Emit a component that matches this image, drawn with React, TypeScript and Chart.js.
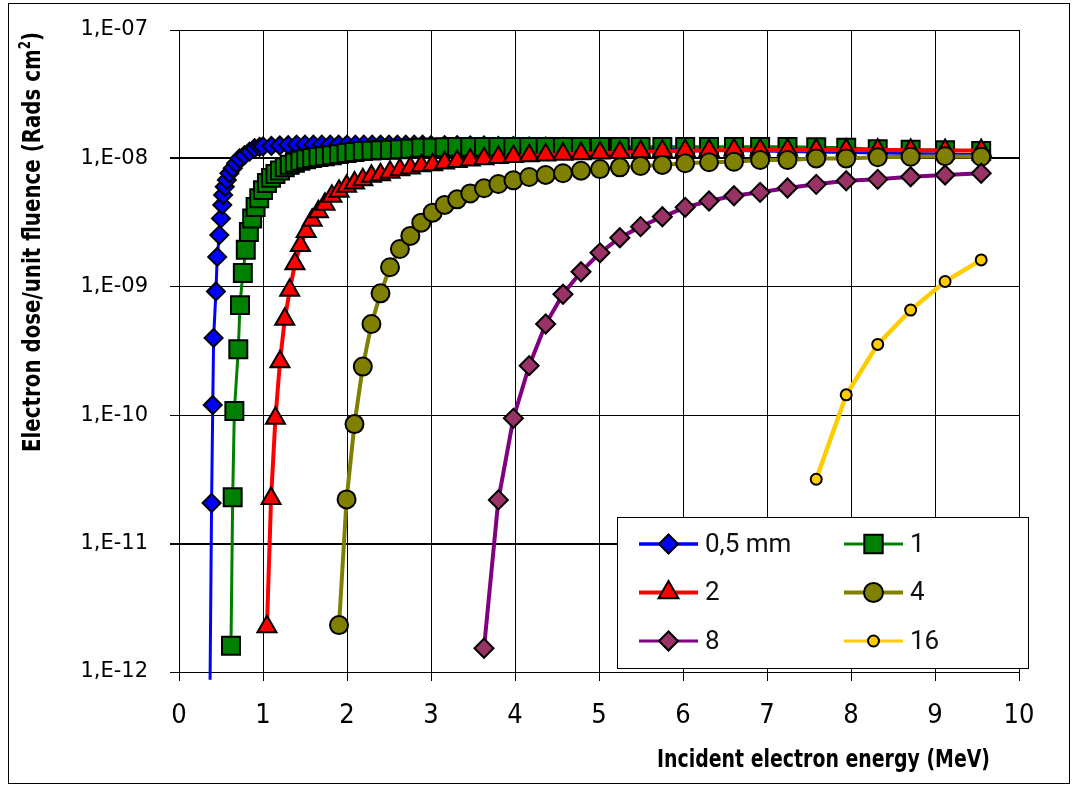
import React, { useEffect, useRef } from 'react';
import { Chart, registerables } from 'chart.js';

Chart.register(...registerables);

// Incident electron energy (MeV) and dose per unit fluence (rad cm²) for each absorber thickness
const energy05 = [0.37, 0.388, 0.402, 0.412, 0.44, 0.455, 0.48, 0.5, 0.515, 0.525, 0.545, 0.57, 0.6, 0.64, 0.68, 0.72, 0.78, 0.84, 0.9, 0.96,
  1.0, 1.1, 1.2, 1.3, 1.4, 1.5, 1.6, 1.7, 1.8, 1.9, 2.0, 2.1, 2.2, 2.3, 2.4, 2.5, 2.6, 2.7, 2.8, 2.9, 3.0,
  3.162, 3.311, 3.467, 3.631, 3.802, 3.981, 4.169, 4.365, 4.571, 4.786, 5.012, 5.248, 5.495, 5.754, 6.026, 6.31, 6.607, 6.918, 7.244, 7.586, 7.943, 8.318, 8.71, 9.12, 9.55];
const dose05 = [8.7e-13, 2.07e-11, 1.2e-10, 4.0e-10, 9.2e-10, 1.71e-9, 2.53e-9, 3.41e-9, 4.34e-9, 5.19e-9, 6.02e-9, 6.8e-9, 7.66e-9, 8.37e-9, 9.16e-9, 1.0e-8, 1.06e-8, 1.13e-8, 1.2e-8, 1.23e-8,
  1.24e-8, 1.25e-8, 1.26e-8, 1.27e-8, 1.28e-8, 1.28e-8, 1.28e-8, 1.28e-8, 1.28e-8, 1.28e-8, 1.28e-8, 1.28e-8, 1.28e-8, 1.28e-8, 1.28e-8, 1.28e-8, 1.28e-8, 1.28e-8, 1.28e-8, 1.28e-8, 1.27e-8,
  1.27e-8, 1.27e-8, 1.26e-8, 1.26e-8, 1.25e-8, 1.25e-8, 1.24e-8, 1.24e-8, 1.23e-8, 1.22e-8, 1.21e-8, 1.2e-8, 1.19e-8, 1.18e-8, 1.17e-8, 1.16e-8, 1.15e-8, 1.14e-8, 1.13e-8, 1.12e-8, 1.11e-8, 1.1e-8, 1.09e-8, 1.08e-8, 1.07e-8];

const energy1 = [0.619, 0.639, 0.659, 0.706, 0.726, 0.76, 0.795, 0.832, 0.871, 0.912, 0.955, 1.0,
  1.047, 1.096, 1.148, 1.202, 1.259, 1.318, 1.38, 1.445, 1.514, 1.585, 1.66, 1.738, 1.82, 1.905, 1.995, 2.089, 2.188, 2.291, 2.399, 2.512, 2.63, 2.754, 2.884,
  3.02, 3.162, 3.311, 3.467, 3.631, 3.802, 3.981, 4.169, 4.365, 4.571, 4.786, 5.012, 5.248, 5.495, 5.754, 6.026, 6.31, 6.607, 6.918, 7.244, 7.586, 7.943, 8.318, 8.71, 9.12, 9.55];
const dose1 = [1.6e-12, 2.3e-11, 1.08e-10, 3.26e-10, 7.2e-10, 1.28e-9, 1.94e-9, 2.67e-9, 3.4e-9, 4.19e-9, 4.9e-9, 5.66e-9,
  6.43e-9, 7.05e-9, 7.57e-9, 8.06e-9, 8.52e-9, 8.91e-9, 9.24e-9, 9.59e-9, 9.85e-9, 1.007e-8, 1.025e-8, 1.04e-8, 1.06e-8, 1.08e-8, 1.1e-8, 1.12e-8, 1.14e-8, 1.15e-8, 1.16e-8, 1.17e-8, 1.18e-8, 1.19e-8, 1.21e-8,
  1.21e-8, 1.22e-8, 1.23e-8, 1.23e-8, 1.23e-8, 1.23e-8, 1.23e-8, 1.23e-8, 1.23e-8, 1.23e-8, 1.23e-8, 1.23e-8, 1.23e-8, 1.23e-8, 1.23e-8, 1.23e-8, 1.23e-8, 1.23e-8, 1.23e-8, 1.23e-8, 1.22e-8, 1.21e-8, 1.18e-8, 1.17e-8, 1.16e-8, 1.14e-8];

const energy2 = [1.047, 1.096, 1.148, 1.202, 1.259, 1.318, 1.38, 1.445, 1.514, 1.585, 1.66, 1.738, 1.82, 1.905, 1.995, 2.089, 2.188, 2.291, 2.399, 2.512, 2.63, 2.754, 2.884,
  3.02, 3.162, 3.311, 3.467, 3.631, 3.802, 3.981, 4.169, 4.365, 4.571, 4.786, 5.012, 5.248, 5.495, 5.754, 6.026, 6.31, 6.607, 6.918, 7.244, 7.586, 7.943, 8.318, 8.71, 9.12, 9.55];
const dose2 = [2.25e-12, 2.25e-11, 9.46e-11, 2.61e-10, 5.58e-10, 9.4e-10, 1.51e-9, 2.1e-9, 2.7e-9, 3.3e-9,
  3.85e-9, 4.4e-9, 5.07e-9, 5.55e-9, 6.07e-9, 6.43e-9, 6.83e-9, 7.26e-9, 7.47e-9, 7.8e-9,
  8.17e-9, 8.41e-9, 8.77e-9, 8.93e-9, 9.21e-9, 9.46e-9, 9.73e-9, 9.94e-9, 1.015e-8, 1.033e-8,
  1.05e-8, 1.062e-8, 1.076e-8, 1.089e-8, 1.101e-8, 1.114e-8, 1.126e-8, 1.136e-8, 1.146e-8, 1.154e-8,
  1.16e-8, 1.162e-8, 1.162e-8, 1.16e-8, 1.16e-8, 1.16e-8, 1.155e-8, 1.15e-8, 1.15e-8];

const energy4 = [1.905, 1.995, 2.089, 2.188, 2.291, 2.399, 2.512, 2.63, 2.754, 2.884, 3.02, 3.162, 3.311, 3.467, 3.631, 3.802, 3.981, 4.169,
  4.365, 4.571, 4.786, 5.012, 5.248, 5.495, 5.754, 6.026, 6.31, 6.607, 6.918, 7.244, 7.586, 7.943, 8.318, 8.71, 9.12, 9.55];
const dose4 = [2.32e-12, 2.21e-11, 8.53e-11, 2.39e-10, 5.13e-10, 8.89e-10, 1.42e-9, 1.97e-9, 2.49e-9, 3.16e-9, 3.78e-9, 4.34e-9, 4.8e-9, 5.34e-9, 5.85e-9, 6.32e-9, 6.75e-9, 7.16e-9,
  7.43e-9, 7.66e-9, 8.02e-9, 8.26e-9, 8.52e-9, 8.73e-9, 8.89e-9, 9.16e-9, 9.33e-9, 9.42e-9, 9.72e-9, 9.72e-9, 1.0e-8, 1.0e-8, 1.02e-8, 1.03e-8, 1.04e-8, 1.03e-8];

const energy8 = [3.631, 3.802, 3.981, 4.169, 4.365, 4.571, 4.786, 5.012, 5.248, 5.495, 5.754, 6.026, 6.31, 6.607, 6.918, 7.244, 7.586, 7.943, 8.318, 8.71, 9.12, 9.55];
const dose8 = [1.53e-12, 2.19e-11, 9.46e-11, 2.43e-10, 5.13e-10, 8.75e-10, 1.31e-9, 1.84e-9, 2.41e-9, 2.94e-9, 3.51e-9, 4.16e-9, 4.66e-9, 5.12e-9, 5.44e-9, 5.88e-9, 6.28e-9, 6.7e-9, 6.87e-9, 7.2e-9, 7.43e-9, 7.66e-9];

const energy16 = [7.586, 7.943, 8.318, 8.71, 9.12, 9.55];
const dose16 = [3.17e-11, 1.44e-10, 3.56e-10, 6.59e-10, 1.1e-9, 1.62e-9];

const seriesLabels = ['0,5 mm', '1', '2', '4', '8', '16'];
const yTickValues = [1e-12, 1e-11, 1e-10, 1e-9, 1e-8, 1e-7];
const yTickLabels = ['1,E-12', '1,E-11', '1,E-10', '1,E-09', '1,E-08', '1,E-07'];
const yHeavyGrid = [1e-11, 1e-8];
const xTickValues = [0, 1, 2, 3, 4, 5, 6, 7, 8, 9, 10];

const xTitle = 'Incident electron energy (MeV)';
const yTitleMain = 'Electron dose/unit fluence (Rads cm';
const yTitleSup = '2';
const yTitleEnd = ')';

const W = 1077;
const H = 787;

function points(xs: number[], ys: number[]) {
  return xs.map((x, i) => ({ x, y: ys[i] }));
}

function sameDecade(a: number, b: number) {
  return Math.abs(Math.log10(a) - Math.log10(b)) < 1e-6;
}

type Marker = {
  style: string;
  radius: number;
  fill: string;
  stroke: string;
  borderWidth: number;
};

function drawMarker(ctx: CanvasRenderingContext2D, m: Marker, x: number, y: number) {
  const r = m.radius;
  ctx.beginPath();
  if (m.style === 'rectRot') {
    ctx.moveTo(x - r, y);
    ctx.lineTo(x, y - r);
    ctx.lineTo(x + r, y);
    ctx.lineTo(x, y + r);
    ctx.closePath();
  } else if (m.style === 'rect') {
    const s = Math.SQRT1_2 * r;
    ctx.rect(x - s, y - s, 2 * s, 2 * s);
  } else if (m.style === 'triangle') {
    for (let k = 0; k < 3; k++) {
      const a = (k * 2 * Math.PI) / 3;
      const px = x + Math.sin(a) * r;
      const py = y - Math.cos(a) * r;
      if (k === 0) ctx.moveTo(px, py);
      else ctx.lineTo(px, py);
    }
    ctx.closePath();
  } else {
    ctx.arc(x, y, r, 0, Math.PI * 2);
  }
  ctx.fillStyle = m.fill;
  ctx.fill();
  ctx.lineWidth = m.borderWidth;
  ctx.strokeStyle = m.stroke;
  ctx.stroke();
}

const TITLE_FONT = '"DejaVu Sans Condensed", "Liberation Sans Narrow", sans-serif';

// Boxed two-column legend, axis titles and the outer frame, painted after the chart
const overlayPlugin = {
  id: 'overlay',
  afterDraw(chart: any) {
    const ctx: CanvasRenderingContext2D = chart.ctx;
    ctx.save();

    // outer frame
    ctx.strokeStyle = '#000000';
    ctx.lineWidth = 1;
    ctx.strokeRect(8.5, 3.5, 1061, 780);

    // legend box
    ctx.fillStyle = '#ffffff';
    ctx.fillRect(617, 517, 411, 151);
    ctx.strokeStyle = '#000000';
    ctx.lineWidth = 1;
    ctx.strokeRect(617.5, 517.5, 411, 151);

    chart.data.datasets.forEach((ds: any, i: number) => {
      const col = i % 2;
      const row = Math.floor(i / 2);
      const x0 = col === 0 ? 639 : 844;
      const y = 544 + row * 48.5;
      ctx.beginPath();
      ctx.moveTo(x0, y);
      ctx.lineTo(x0 + 59, y);
      ctx.strokeStyle = ds.borderColor;
      ctx.lineWidth = ds.legendLineWidth;
      ctx.stroke();
      drawMarker(ctx, {
        style: ds.pointStyle,
        radius: ds.legendRadius,
        fill: ds.pointBackgroundColor,
        stroke: ds.pointBorderColor,
        borderWidth: ds.pointBorderWidth,
      }, x0 + 29.5, y);
      ctx.fillStyle = '#111111';
      ctx.font = '26px Roboto, "Noto Sans", sans-serif';
      ctx.textAlign = 'left';
      ctx.textBaseline = 'middle';
      ctx.fillText(ds.label, x0 + 66, y + 1);
    });

    // x-axis title, condensed to its drawn width
    ctx.fillStyle = '#000000';
    ctx.font = 'bold 25px ' + TITLE_FONT;
    ctx.textBaseline = 'alphabetic';
    ctx.textAlign = 'left';
    const xw = ctx.measureText(xTitle).width;
    ctx.save();
    ctx.translate(657, 767);
    ctx.scale(333 / xw, 1);
    ctx.fillText(xTitle, 0, 0);
    ctx.restore();

    // y-axis title, rotated, ending at the top of the plot area
    const mainFont = 'bold 25px ' + TITLE_FONT;
    const supFont = 'bold 15px ' + TITLE_FONT;
    ctx.font = mainFont;
    const w1 = ctx.measureText(yTitleMain).width;
    const w3 = ctx.measureText(yTitleEnd).width;
    ctx.font = supFont;
    const w2 = ctx.measureText(yTitleSup).width;
    const total = w1 + w2 + w3;
    ctx.save();
    ctx.translate(40, 452);
    ctx.rotate(-Math.PI / 2);
    ctx.scale(420 / total, 1);
    ctx.textAlign = 'left';
    ctx.font = mainFont;
    ctx.fillText(yTitleMain, 0, 0);
    ctx.font = supFont;
    ctx.fillText(yTitleSup, w1, -10);
    ctx.font = mainFont;
    ctx.fillText(yTitleEnd, w1 + w2, 0);
    ctx.restore();

    ctx.restore();
  },
};

export default function App() {
  const canvasRef = useRef<HTMLCanvasElement | null>(null);

  useEffect(() => {
    document.body.style.margin = '0';
    const canvas = canvasRef.current;
    if (!canvas) return;

    const series = [
      { label: seriesLabels[0], xs: energy05, ys: dose05, color: '#0000ff', fill: '#0000ff', style: 'rectRot', radius: 9, legendRadius: 9.5, width: 3, legendWidth: 3.5 },
      { label: seriesLabels[1], xs: energy1, ys: dose1, color: '#008000', fill: '#008000', style: 'rect', radius: 12.7, legendRadius: 13, width: 3, legendWidth: 3 },
      { label: seriesLabels[2], xs: energy2, ys: dose2, color: '#ff0000', fill: '#ff0000', style: 'triangle', radius: 11, legendRadius: 11.5, width: 4, legendWidth: 4 },
      { label: seriesLabels[3], xs: energy4, ys: dose4, color: '#808000', fill: '#808000', style: 'circle', radius: 9, legendRadius: 9.5, width: 4, legendWidth: 4 },
      { label: seriesLabels[4], xs: energy8, ys: dose8, color: '#800080', fill: '#993366', style: 'rectRot', radius: 9.5, legendRadius: 9.5, width: 4, legendWidth: 3 },
      { label: seriesLabels[5], xs: energy16, ys: dose16, color: '#ffcc00', fill: '#ffcc00', style: 'circle', radius: 5.5, legendRadius: 5.5, width: 4.5, legendWidth: 3 },
    ];

    const datasets = series.map((s, i) => ({
      label: s.label,
      data: points(s.xs, s.ys),
      borderColor: s.color,
      borderWidth: s.width,
      pointStyle: s.style,
      pointRadius: (c: any) => (c.raw && c.raw.y < 1e-12 ? 0 : s.radius),
      pointBackgroundColor: s.fill,
      pointBorderColor: '#000000',
      pointBorderWidth: 2,
      tension: 0,
      clip: false as const,
      order: series.length - i,
      legendRadius: s.legendRadius,
      legendLineWidth: s.legendWidth,
    }));

    const chart = new Chart(canvas, {
      type: 'line',
      data: { datasets: datasets as any },
      options: {
        responsive: false,
        animation: false,
        events: [],
        layout: { padding: { left: 0, top: 30, right: 58, bottom: 0 } },
        plugins: {
          legend: { display: false },
          tooltip: { enabled: false },
          title: { display: false },
        },
        scales: {
          x: {
            type: 'linear',
            min: 0,
            max: 10,
            afterBuildTicks: (axis: any) => {
              axis.ticks = xTickValues.map((v) => ({ value: v }));
            },
            afterFit: (scale: any) => {
              scale.height = H - 672;
              scale.paddingLeft = 0;
              scale.paddingRight = 0;
            },
            ticks: {
              color: '#000000',
              padding: 19,
              maxRotation: 0,
              autoSkip: false,
              font: { family: '"DejaVu Sans Condensed", sans-serif', size: 27 },
              callback: (v: any) => String(v),
            },
            grid: { color: '#000000', lineWidth: 1, tickLength: 9, tickColor: '#000000' },
            border: { color: '#000000', width: 1 },
          },
          y: {
            type: 'logarithmic',
            min: 1e-12,
            max: 1e-7,
            afterBuildTicks: (axis: any) => {
              axis.ticks = yTickValues.map((v) => ({ value: v }));
            },
            afterFit: (scale: any) => {
              scale.width = 179;
              scale.paddingTop = 0;
              scale.paddingBottom = 0;
            },
            ticks: {
              color: '#000000',
              padding: 22,
              autoSkip: false,
              font: { family: '"DejaVu Sans", sans-serif', size: 21 },
              callback: (v: any) => {
                const k = yTickValues.findIndex((t) => sameDecade(t, Number(v)));
                return k >= 0 ? yTickLabels[k] : '';
              },
            },
            grid: {
              color: '#000000',
              lineWidth: (c: any) => (c.tick && yHeavyGrid.some((t) => sameDecade(t, c.tick.value)) ? 2 : 1),
              tickLength: 9,
              tickColor: '#000000',
            },
            border: { color: '#000000', width: 1 },
          },
        },
      },
      plugins: [overlayPlugin],
    });

    return () => {
      chart.destroy();
    };
  }, []);

  return (
    <div style={{ width: W, height: H, background: '#ffffff' }}>
      <canvas ref={canvasRef} width={W} height={H} style={{ display: 'block', width: W, height: H }} />
    </div>
  );
}
